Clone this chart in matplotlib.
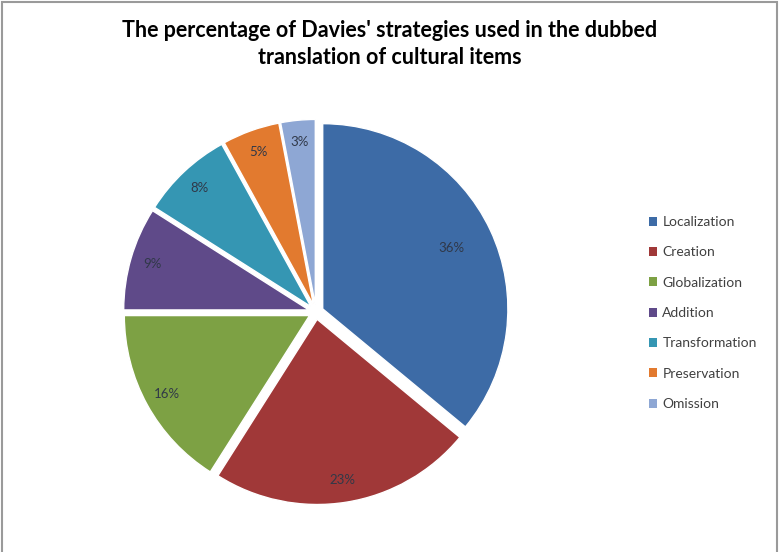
import matplotlib
matplotlib.use("Agg")
import matplotlib.pyplot as plt
from matplotlib.patches import Rectangle
import numpy as np

categories = ["Localization", "Creation", "Globalization", "Addition",
              "Transformation", "Preservation", "Omission"]
values = [36, 23, 16, 9, 8, 5, 3]
colors = ["#3D6BA6", "#A03838", "#7DA144", "#5F4A89", "#3596B3", "#E27A2F", "#8EA7D4"]
title = "The percentage of Davies' strategies used in the dubbed\ntranslation of cultural items"

fig = plt.figure(figsize=(7.79, 5.52), dpi=100)
fig.patch.set_facecolor("white")

ax = fig.add_axes([116 / 779, 40 / 552, 400 / 779, 400 / 552])
wedges, texts, autotexts = ax.pie(
    values, colors=colors, startangle=90, counterclock=False,
    explode=[0.04] * len(values), radius=1.0,
    autopct=lambda p: f"{p:.0f}%", pctdistance=0.88,
    wedgeprops=dict(edgecolor="white", linewidth=1.0),
    textprops=dict(fontsize=9.5, color="#303848", family="Lato"))
# Localization label slightly inward
x, y = autotexts[0].get_position()
autotexts[0].set_position((x * 0.88, y * 0.88))
ax.set_xlim(-1.08, 1.08)
ax.set_ylim(-1.08, 1.08)
ax.set_aspect("equal")
ax.axis("off")

fig.text(390 / 779, 1 - 44 / 552, title, ha="center", va="center",
         fontsize=15.5, fontweight="bold", family="Lato", color="black",
         linespacing=1.3)

leg = fig.legend(wedges, categories, loc="center left",
                 bbox_to_anchor=(636 / 779, 1 - 313 / 552), frameon=False,
                 handlelength=0.6, handleheight=0.6,
                 handletextpad=0.4, labelspacing=1.32,
                 prop=dict(family="Lato", size=10))
for t in leg.get_texts():
    t.set_color("#404040")
for h in leg.legend_handles:
    h.set_linewidth(0)

fig.patches.append(Rectangle((1.5 / 779, -0.01), 775.5 / 779, 1 - 1.5 / 552 + 0.01,
                             transform=fig.transFigure, fill=False,
                             edgecolor="#9a9a9a", linewidth=1.5))

fig.savefig("out.png", dpi=100)
